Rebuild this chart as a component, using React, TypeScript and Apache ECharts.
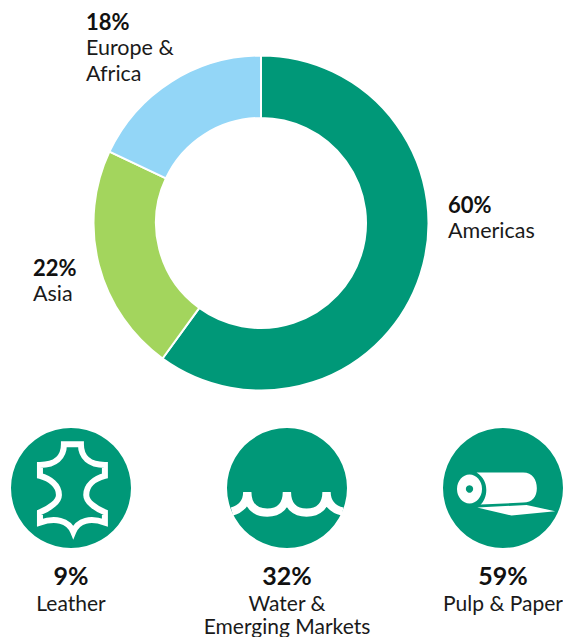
import React, { useEffect, useRef } from "react";
import * as echarts from "echarts";

const regions = ["Americas", "Asia", "Europe &\nAfrica"];
const regionShares = [60, 22, 18];
const regionColors = ["#009878", "#a3d55d", "#93d6f7"];
const segments = ["Leather", "Water &\nEmerging Markets", "Pulp & Paper"];
const segmentShares = [9, 32, 59];

const GREEN = "#009878";
const FONT = "Lato, 'Open Sans', sans-serif";
const TEXT = "#1a1a1a";

const LEATHER =
  "M192,73 L243,73 C243,112 268,135 315,135 L315,168 C285,176 259,195 259,225 C259,245 285,265 315,277 L315,308 C272,293 235,300 220,336 C205,300 165,293 120,308 L120,277 C150,265 177,245 177,225 C177,195 150,176 120,168 L120,135 C167,135 192,112 192,73 Z";
const WAVE =
  "M126,275 C150,268 172,250 172,216 C172,258 198,278 232,278 C266,278 291,258 291,216 C291,258 316,278 350,278 C384,278 410,258 410,216 C410,250 430,268 458,275";
const ROLL =
  "M290,158 L430,158 C458,158 471,180 471,205 C471,230 458,248 430,248 L302,254 C322,235 332,185 290,158 Z M292,263 L440,255 L526,274 L395,287 Z";

echarts.graphic.registerShape("leatherIcon", echarts.graphic.extendPath(LEATHER, {}));
echarts.graphic.registerShape("waveIcon", echarts.graphic.extendPath(WAVE, {}));
echarts.graphic.registerShape("rollIcon", echarts.graphic.extendPath(ROLL, {}));

const labelAnchors = [
  { x: 448, y: 204 },
  { x: 33, y: 267 },
  { x: 86, y: 21 },
];

export default function App() {
  const ref = useRef<HTMLDivElement>(null);
  useEffect(() => {
    document.body.style.margin = "0";
    const chart = echarts.init(ref.current!, undefined, { renderer: "svg" });
    const centers = [71, 287, 503];
    const graphics: any[] = [];
    centers.forEach((cx, i) => {
      graphics.push({ type: "circle", shape: { cx, cy: 488, r: 60 }, style: { fill: GREEN } });
      graphics.push({
        type: "text",
        x: cx,
        y: 575,
        style: { text: segmentShares[i] + "%", fill: "#111", font: `700 25px ${FONT}`, align: "center", verticalAlign: "middle" },
      });
      segments[i].split("\n").forEach((line, k) => {
        graphics.push({
          type: "text",
          x: cx,
          y: 602 + k * 23.5,
          style: { text: line, fill: TEXT, font: `400 21px ${FONT}`, align: "center", verticalAlign: "middle" },
        });
      });
    });
    const s = 1 / 3;
    graphics.push({ type: "leatherIcon", x: 0, y: 420, scaleX: s, scaleY: s, style: { fill: "none", stroke: "#fff", lineWidth: 18 } });
    graphics.push({ type: "waveIcon", x: 190, y: 420, scaleX: s, scaleY: s, style: { fill: "none", stroke: "#fff", lineWidth: 25 } });
    graphics.push({ type: "rollIcon", x: 380, y: 420, scaleX: s, scaleY: s, style: { fill: "#fff" } });
    graphics.push({ type: "ellipse", shape: { cx: 469.5, cy: 489, rx: 12.5, ry: 14.5 }, style: { fill: "#fff" } });
    graphics.push({ type: "circle", shape: { cx: 469.5, cy: 489, r: 3.7 }, style: { fill: GREEN } });

    chart.setOption({
      animation: false,
      graphic: { elements: graphics },
      series: [
        {
          type: "pie",
          center: [261, 223],
          radius: [105, 167.5],
          startAngle: 90,
          clockwise: true,
          silent: true,
          itemStyle: { borderColor: "#fff", borderWidth: 2 },
          labelLine: { show: false },
          label: {
            show: true,
            position: "outside",
            align: "left",
            overflow: "none",
            formatter: (p: any) =>
              `{b|${p.value}%}\n` + String(p.name).split("\n").map((l: string) => `{n|${l}}`).join("\n"),
            rich: {
              b: { fontFamily: FONT, fontWeight: 700, fontSize: 22, lineHeight: 26, color: "#111" },
              n: { fontFamily: FONT, fontWeight: 400, fontSize: 21.5, lineHeight: 26, color: TEXT },
            },
          },
          labelLayout: (p: any) => ({
            x: labelAnchors[p.dataIndex].x,
            y: labelAnchors[p.dataIndex].y - 13,
            align: "left",
            verticalAlign: "top",
          }),
          data: regions.map((name, i) => ({
            name,
            value: regionShares[i],
            itemStyle: { color: regionColors[i] },
          })),
        },
      ],
    });
    return () => chart.dispose();
  }, []);
  return <div ref={ref} style={{ width: 563, height: 637 }} />;
}
